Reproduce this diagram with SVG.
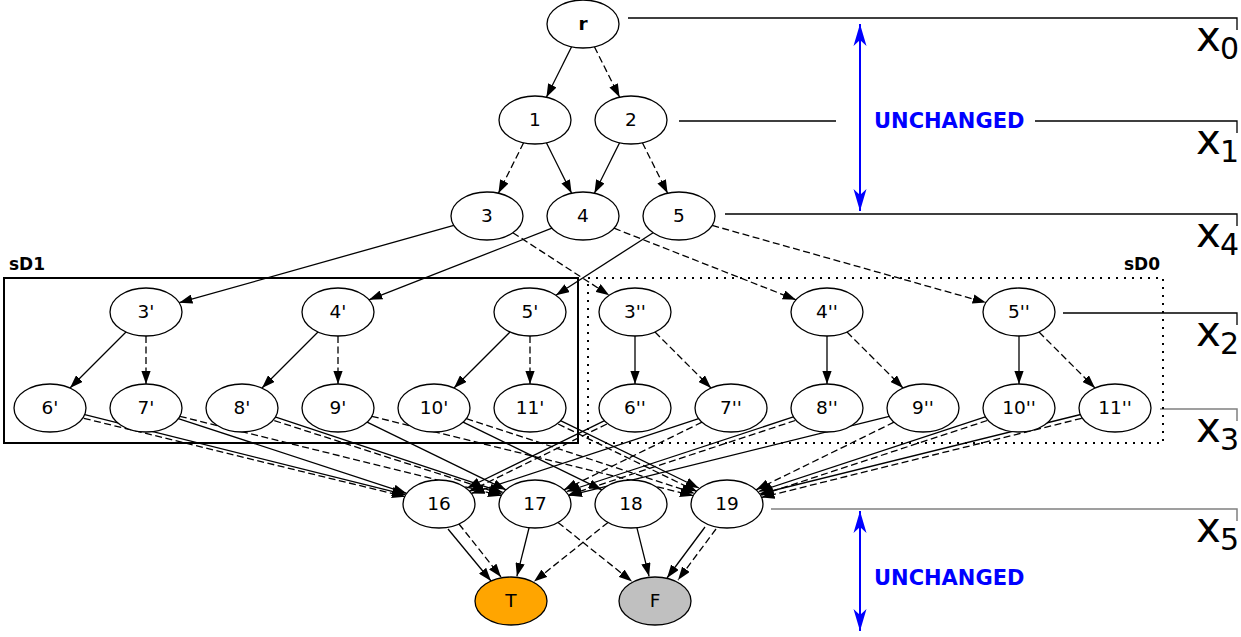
<svg xmlns="http://www.w3.org/2000/svg" width="1241" height="637" viewBox="0 0 1241 637">
<defs>
<style>
.n ellipse{fill:#fff;stroke:#000;stroke-width:1.3}
.n text{font-family:"DejaVu Sans",sans-serif;font-size:18.5px;text-anchor:middle;fill:#000}
.e line{stroke:#000;stroke-width:1.3;fill:none;marker-end:url(#ah)}
.e line.d{stroke-dasharray:7,3.5}
.lv{stroke:#000;stroke-width:1.3;fill:none}
.lg{stroke:#808080;stroke-width:1.5;fill:none}
.xl{font-family:"DejaVu Sans",sans-serif;font-size:42px;fill:#000}
.xs{font-family:"DejaVu Sans",sans-serif;font-size:30px;fill:#000}
.un{font-family:"DejaVu Sans",sans-serif;font-size:21px;font-weight:bold;fill:#0000ff}
.cl{font-family:"DejaVu Sans",sans-serif;font-size:17px;font-weight:bold;fill:#000}
.ba{stroke:#0000ff;stroke-width:2;fill:none;marker-start:url(#bh);marker-end:url(#bh)}
</style>
<marker id="ah" viewBox="0 0 13.3 9.4" refX="13.3" refY="4.7" markerWidth="13.3" markerHeight="9.4" markerUnits="userSpaceOnUse" orient="auto"><path d="M0,0 L13.3,4.7 L0,9.4 Z" fill="#000"/></marker>
<marker id="bh" viewBox="-23 -7 24 14" refX="0" refY="0" markerWidth="24" markerHeight="14" markerUnits="userSpaceOnUse" orient="auto-start-reverse"><path d="M0,0 L-22,-6.5 L-16,0 L-22,6.5 Z" fill="#0000ff"/></marker>
</defs>
<rect width="1241" height="637" fill="#fff"/>

<g id="levels">
<path class="lv" d="M628,18 H1237 V30"/>
<path class="lv" d="M679,121 H836 M1035,121 H1237 V133"/>
<path class="lv" d="M725,214 H1237 V226"/>
<path class="lv" d="M1063,313 H1237 V325"/>
<path class="lg" d="M1160,409 H1237 V421"/>
<path class="lg" d="M771,509 H1237 V521"/>
<text class="xl" x="1196" y="51">x</text><text class="xs" x="1220" y="59">0</text>
<text class="xl" x="1196" y="154">x</text><text class="xs" x="1220" y="162">1</text>
<text class="xl" x="1196" y="247">x</text><text class="xs" x="1220" y="255">4</text>
<text class="xl" x="1196" y="346">x</text><text class="xs" x="1220" y="354">2</text>
<text class="xl" x="1196" y="442">x</text><text class="xs" x="1220" y="450">3</text>
<text class="xl" x="1196" y="542">x</text><text class="xs" x="1220" y="550">5</text>
</g>

<g id="unchanged">
<line class="ba" x1="860" y1="24" x2="860" y2="211"/>
<text class="un" x="874" y="128">UNCHANGED</text>
<line class="ba" x1="860" y1="511" x2="860" y2="631"/>
<text class="un" x="874" y="585">UNCHANGED</text>
</g>

<g id="sD1">
<rect x="4" y="278" width="574" height="165" fill="none" stroke="#000" stroke-width="2"/>
<text class="cl" x="9" y="270">sD1</text>
</g>
<g id="sD0">
<rect x="588" y="278" width="575" height="165" fill="none" stroke="#000" stroke-width="2" stroke-dasharray="2,6"/>
<text class="cl" x="1160" y="270" text-anchor="end">sD0</text>
</g>

<g id="edges" class="e">
<line x1="571.6" y1="46.8" x2="546.4" y2="97.2"/>
<line class="d" x1="594.4" y1="46.8" x2="619.6" y2="97.2"/>
<line class="d" x1="523.6" y1="142.8" x2="498.4" y2="193.2"/>
<line x1="546.4" y1="142.8" x2="571.6" y2="193.2"/>
<line x1="619.6" y1="142.8" x2="594.4" y2="193.2"/>
<line class="d" x1="642.4" y1="142.8" x2="667.6" y2="193.2"/>
<line x1="453.8" y1="225.3" x2="179.2" y2="302.7"/>
<line class="d" x1="512.8" y1="232.7" x2="609.2" y2="295.3"/>
<line x1="552" y1="228.2" x2="369" y2="299.8"/>
<line class="d" x1="614" y1="228.2" x2="796" y2="299.8"/>
<line x1="653.1" y1="232.7" x2="555.9" y2="295.3"/>
<line class="d" x1="712.2" y1="225.4" x2="985.9" y2="302.6"/>

<line x1="126" y1="332" x2="70" y2="388"/>
<line class="d" x1="146" y1="336" x2="146" y2="384"/>
<line x1="318" y1="332" x2="262" y2="388"/>
<line class="d" x1="338" y1="336" x2="338" y2="384"/>
<line x1="510" y1="332" x2="454" y2="388"/>
<line class="d" x1="530" y1="336" x2="530" y2="384"/>
<line x1="635" y1="336" x2="635" y2="384"/>
<line class="d" x1="655" y1="332" x2="711" y2="388"/>
<line x1="827" y1="336" x2="827" y2="384"/>
<line class="d" x1="847" y1="332" x2="903" y2="388"/>
<line x1="1019" y1="336" x2="1019" y2="384"/>
<line class="d" x1="1039" y1="332" x2="1095" y2="388"/>

<line x1="83.8" y1="414.3" x2="405.2" y2="494.7"/>
<line class="d" x1="83.8" y1="418.3" x2="405.2" y2="496.7"/>
<line x1="178.3" y1="418.6" x2="406.7" y2="493.4"/>
<line class="d" x1="179.8" y1="416.3" x2="501.2" y2="495.7"/>
<line x1="274.3" y1="416.6" x2="502.7" y2="492.4"/>
<line class="d" x1="274.3" y1="420.6" x2="502.7" y2="494.4"/>
<line x1="367.1" y1="422.2" x2="506" y2="489.8"/>
<line class="d" x1="371.8" y1="416.3" x2="693.2" y2="495.7"/>
<line x1="463.1" y1="422.2" x2="601.9" y2="489.8"/>
<line class="d" x1="466.3" y1="418.6" x2="694.7" y2="493.4"/>
<line x1="560" y1="420.4" x2="698.8" y2="488"/>
<line class="d" x1="558.2" y1="424" x2="697" y2="491.6"/>

<line x1="605.1" y1="420.4" x2="467.1" y2="488"/>
<line class="d" x1="606.9" y1="424" x2="468.9" y2="491.6"/>
<line x1="698.7" y1="418.6" x2="471.3" y2="493.4"/>
<line class="d" x1="702" y1="422.2" x2="564" y2="489.8"/>
<line x1="794.1" y1="416.7" x2="566.7" y2="491.5"/>
<line class="d" x1="795.3" y1="420.5" x2="567.9" y2="495.3"/>
<line x1="889.2" y1="416.4" x2="568.8" y2="495.6"/>
<line class="d" x1="894" y1="422.2" x2="756" y2="489.8"/>
<line x1="986.1" y1="416.7" x2="758.7" y2="491.5"/>
<line class="d" x1="987.3" y1="420.5" x2="759.9" y2="495.3"/>
<line x1="1080.7" y1="414.5" x2="760.3" y2="493.7"/>
<line class="d" x1="1081.7" y1="418.3" x2="761.3" y2="497.5"/>

<line x1="448" y1="529" x2="491" y2="581"/>
<line class="d" x1="459" y1="524" x2="501" y2="577"/>
<line x1="529.1" y1="527.7" x2="516.9" y2="576.3"/>
<line class="d" x1="558" y1="522.4" x2="632" y2="581.6"/>
<line class="d" x1="608" y1="522.4" x2="534" y2="581.6"/>
<line x1="636.9" y1="527.7" x2="649.1" y2="576.3"/>
<line x1="705" y1="527" x2="667" y2="578"/>
<line class="d" x1="716" y1="529" x2="678" y2="580"/>
</g>

<g id="n_r" class="n"><ellipse cx="583" cy="24" rx="36" ry="24"/><text x="583" y="30" font-weight="bold">r</text></g>
<g id="n_1" class="n"><ellipse cx="535" cy="120" rx="36" ry="24"/><text x="535" y="126">1</text></g>
<g id="n_2" class="n"><ellipse cx="631" cy="120" rx="36" ry="24"/><text x="631" y="126">2</text></g>
<g id="n_3" class="n"><ellipse cx="487" cy="216" rx="36" ry="24"/><text x="487" y="222">3</text></g>
<g id="n_4" class="n"><ellipse cx="583" cy="216" rx="36" ry="24"/><text x="583" y="222">4</text></g>
<g id="n_5" class="n"><ellipse cx="679" cy="216" rx="36" ry="24"/><text x="679" y="222">5</text></g>
<g id="n_3p" class="n"><ellipse cx="146" cy="312" rx="36" ry="24"/><text x="146" y="318">3'</text></g>
<g id="n_4p" class="n"><ellipse cx="338" cy="312" rx="36" ry="24"/><text x="338" y="318">4'</text></g>
<g id="n_5p" class="n"><ellipse cx="530" cy="312" rx="36" ry="24"/><text x="530" y="318">5'</text></g>
<g id="n_3pp" class="n"><ellipse cx="635" cy="312" rx="36" ry="24"/><text x="635" y="318">3''</text></g>
<g id="n_4pp" class="n"><ellipse cx="827" cy="312" rx="36" ry="24"/><text x="827" y="318">4''</text></g>
<g id="n_5pp" class="n"><ellipse cx="1019" cy="312" rx="36" ry="24"/><text x="1019" y="318">5''</text></g>
<g id="n_6p" class="n"><ellipse cx="50" cy="408" rx="36" ry="24"/><text x="50" y="414">6'</text></g>
<g id="n_7p" class="n"><ellipse cx="146" cy="408" rx="36" ry="24"/><text x="146" y="414">7'</text></g>
<g id="n_8p" class="n"><ellipse cx="242" cy="408" rx="36" ry="24"/><text x="242" y="414">8'</text></g>
<g id="n_9p" class="n"><ellipse cx="338" cy="408" rx="36" ry="24"/><text x="338" y="414">9'</text></g>
<g id="n_10p" class="n"><ellipse cx="434" cy="408" rx="36" ry="24"/><text x="434" y="414">10'</text></g>
<g id="n_11p" class="n"><ellipse cx="530" cy="408" rx="36" ry="24"/><text x="530" y="414">11'</text></g>
<g id="n_6pp" class="n"><ellipse cx="635" cy="408" rx="36" ry="24"/><text x="635" y="414">6''</text></g>
<g id="n_7pp" class="n"><ellipse cx="731" cy="408" rx="36" ry="24"/><text x="731" y="414">7''</text></g>
<g id="n_8pp" class="n"><ellipse cx="827" cy="408" rx="36" ry="24"/><text x="827" y="414">8''</text></g>
<g id="n_9pp" class="n"><ellipse cx="923" cy="408" rx="36" ry="24"/><text x="923" y="414">9''</text></g>
<g id="n_10pp" class="n"><ellipse cx="1019" cy="408" rx="36" ry="24"/><text x="1019" y="414">10''</text></g>
<g id="n_11pp" class="n"><ellipse cx="1115" cy="408" rx="36" ry="24"/><text x="1115" y="414">11''</text></g>
<g id="n_16" class="n"><ellipse cx="439" cy="504" rx="36" ry="24"/><text x="439" y="510">16</text></g>
<g id="n_17" class="n"><ellipse cx="535" cy="504" rx="36" ry="24"/><text x="535" y="510">17</text></g>
<g id="n_18" class="n"><ellipse cx="631" cy="504" rx="36" ry="24"/><text x="631" y="510">18</text></g>
<g id="n_19" class="n"><ellipse cx="727" cy="504" rx="36" ry="24"/><text x="727" y="510">19</text></g>
<g id="n_T" class="n"><ellipse cx="511" cy="601" rx="36" ry="24" style="fill:#ffa500"/><text x="511" y="607">T</text></g>
<g id="n_F" class="n"><ellipse cx="655" cy="601" rx="36" ry="24" style="fill:#c0c0c0"/><text x="655" y="607">F</text></g>
</svg>
